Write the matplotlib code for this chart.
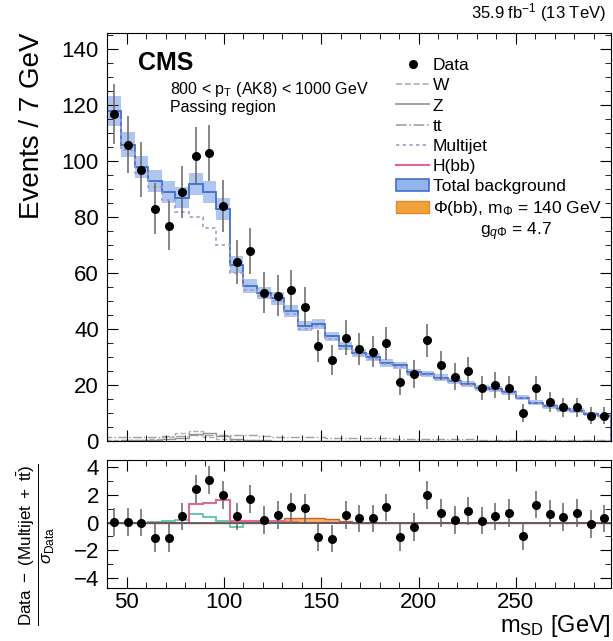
import matplotlib.pyplot as plt
import numpy as np
from matplotlib.lines import Line2D
from matplotlib.patches import Patch

plt.rcParams['font.family'] = ['Liberation Sans', 'DejaVu Sans']
plt.rcParams['mathtext.fontset'] = 'custom'
plt.rcParams['mathtext.rm'] = 'Liberation Sans'
plt.rcParams['mathtext.it'] = 'Liberation Sans:italic'
plt.rcParams['mathtext.bf'] = 'Liberation Sans:bold'

# bins of 7 GeV in soft-drop mass
edges = np.arange(40, 300, 7)
centers = edges[:-1] + 3.5

data = [117, 106, 97, 83, 77, 89, 102, 103, 84, 64, 68, 53, 52, 54, 48, 34, 29, 37,
        33, 32, 35, 21, 24, 36, 27, 23, 25, 19, 20, 19, 10, 19, 14, 12, 12, 9, 9]
data_err = [10.8, 10.3, 9.8, 9.1, 8.8, 9.4, 10.1, 10.1, 9.2, 8.0, 8.2, 7.3, 7.2, 7.3,
            6.9, 5.8, 5.4, 6.1, 5.7, 5.7, 5.9, 4.6, 4.9, 6.0, 5.2, 4.8, 5.0, 4.4, 4.5,
            4.4, 3.2, 4.4, 3.7, 3.5, 3.5, 3.0, 3.0]

total_bkg = [118, 106, 98, 93, 89, 87, 92, 89, 83, 63, 55.5, 53, 51, 46.5, 41, 42, 37.5,
             34, 31.5, 30, 28, 27, 24.5, 24, 22.6, 21.5, 20.5, 19, 18.6, 17.4, 15.5,
             13.7, 12.5, 11.4, 10.8, 9.7, 9]
bkg_unc = [5.5, 4.5, 4.0, 4.0, 3.8, 3.8, 4.0, 4.0, 4.0, 3.0, 2.5, 2.2, 2.2, 2.0, 1.8,
           1.8, 1.6, 1.5, 1.5, 1.4, 1.4, 1.3, 1.3, 1.2, 1.2, 1.2, 1.1, 1.1, 1.1, 1.0,
           1.0, 1.0, 0.9, 0.9, 0.9, 0.8, 0.8]
multijet = [116, 104, 96, 91, 86, 82, 80, 76, 70, 60, 54, 52, 50, 45.5, 40, 41, 36.5,
            33, 31, 29.5, 27.5, 26.5, 24, 23.5, 22.2, 21.1, 20.1, 18.7, 18.3, 17.1,
            15.2, 13.5, 12.3, 11.2, 10.6, 9.5, 8.8]
w_bkg = [0.2, 0.3, 0.5, 0.8, 1.5, 3.0, 3.5, 1.5, 0.6, 0.3, 0.2, 0.1, 0.1, 0.1, 0.1,
         0.1, 0.1, 0.1, 0.1, 0.1, 0.1, 0.1, 0.1, 0.1, 0.1, 0.1, 0.1, 0.1, 0.1, 0.1,
         0.1, 0.1, 0.1, 0.1, 0.1, 0.1, 0.1]
z_bkg = [0.1, 0.2, 0.3, 0.4, 0.6, 1.2, 2.5, 3.0, 1.8, 0.6, 0.3, 0.2, 0.1, 0.1, 0.1,
         0.1, 0.1, 0.1, 0.1, 0.1, 0.1, 0.1, 0.1, 0.1, 0.1, 0.1, 0.1, 0.1, 0.1, 0.1,
         0.1, 0.1, 0.1, 0.1, 0.1, 0.1, 0.1]
tt_bkg = [1.5, 1.5, 1.6, 1.6, 1.7, 1.8, 2.0, 2.2, 2.3, 2.2, 2.0, 1.8, 1.6, 1.5, 1.4,
          1.3, 1.2, 1.1, 1.0, 1.0, 0.9, 0.8, 0.8, 0.7, 0.7, 0.6, 0.6, 0.5, 0.5, 0.5,
          0.4, 0.4, 0.4, 0.3, 0.3, 0.3, 0.3]

# lower panel: (Data - (Multijet + tt)) / sigma_Data
pull = [0.05, 0.05, 0.0, -1.1, -1.1, 0.45, 2.4, 3.05, 2.0, 0.45, 1.7, 0.2, 0.55, 1.15,
        1.05, -1.05, -1.15, 0.55, 0.3, 0.3, 1.1, -1.05, -0.3, 2.0, 0.7, 0.2, 0.85,
        0.15, 0.45, 0.7, -0.95, 1.3, 0.65, 0.4, 0.7, -0.1, 0.3]
hbb_pull = [0, 0, 0, 0, 0, 0, 1.35, 1.45, 1.6, 0.1, 0.1, 0.1, 0.1, 0.05, 0, 0, 0, 0, 0,
            0, 0, 0, 0, 0, 0, 0, 0, 0, 0, 0, 0, 0, 0, 0, 0, 0, 0]
vz_pull = [0, 0, 0, 0.05, 0.1, 0.2, 0.6, 0.4, 0.1, -0.3, 0, 0, 0, 0, 0, 0, 0, 0, 0, 0,
           0, 0, 0, 0, 0, 0, 0, 0, 0, 0, 0, 0, 0, 0, 0, 0, 0]
phi_pull = [0, 0, 0, 0, 0, 0, 0, 0, 0, 0, 0, 0, 0.15, 0.3, 0.35, 0.35, 0.25, 0.1, 0, 0,
            0, 0, 0, 0, 0, 0, 0, 0, 0, 0, 0, 0, 0, 0, 0, 0, 0]

blue = '#3f6fd1'
blue_fill = '#94b4ec'
pink = '#e06a8a'
teal = '#5fc2a8'
orange = '#f2a23a'

fig = plt.figure(figsize=(6.13, 6.41), dpi=100)
ax = fig.add_axes([0.175, 0.312, 0.822, 0.637])
rax = fig.add_axes([0.175, 0.083, 0.822, 0.199], sharex=ax)

# upper panel
low = np.array(total_bkg) - np.array(bkg_unc)
high = np.array(total_bkg) + np.array(bkg_unc)
ax.stairs(high, edges, baseline=low, fill=True, color=blue_fill, alpha=0.75, lw=0)
ax.stairs(total_bkg, edges, color=blue, lw=1.3)
ax.stairs(multijet, edges, color='#a898c8', lw=1.2, ls=(0, (2, 2)))
ax.stairs(w_bkg, edges, color='#b0b0b0', lw=1, ls='--')
ax.stairs(z_bkg, edges, color='#909090', lw=1)
ax.stairs(tt_bkg, edges, color='#a0a0a0', lw=1, ls='-.')
ax.errorbar(centers, data, yerr=data_err, fmt='o', color='black', ms=5.5,
            ecolor='#666666', elinewidth=1.1, capsize=0)

ax.set_xlim(40, 299)
ax.set_ylim(0, 146)
ax.set_ylabel('Events / 7 GeV', fontsize=20, loc='top', labelpad=12)
ax.set_yticks(np.arange(0, 141, 20))
ax.set_yticks(np.arange(0, 146, 5), minor=True)
ax.set_xticks(np.arange(50, 299, 50))
ax.set_xticks(np.arange(40, 299, 10), minor=True)
ax.tick_params(labelbottom=False)

ax.text(0.06, 0.955, 'CMS', transform=ax.transAxes, fontsize=18, fontweight='bold',
        va='top')
ax.text(0.125, 0.885, r'800 < p$_\mathregular{T}$ (AK8) < 1000 GeV', transform=ax.transAxes,
        fontsize=11.5, va='top')
ax.text(0.125, 0.835, 'Passing region', transform=ax.transAxes, fontsize=11.5, va='top')
fig.text(0.988, 0.972, r'35.9 fb$^{-1}$ (13 TeV)', ha='right', fontsize=12)

handles = [
    Line2D([], [], marker='o', color='black', ls='none', ms=5.5),
    Line2D([], [], color='#b0b0b0', ls='--', lw=1.2),
    Line2D([], [], color='#909090', lw=1.2),
    Line2D([], [], color='#a0a0a0', ls='-.', lw=1.2),
    Line2D([], [], color='#a898c8', ls=(0, (2, 2)), lw=1.2),
    Line2D([], [], color=pink, lw=1.5),
    Patch(facecolor=blue_fill, edgecolor=blue, lw=1.2),
    Patch(facecolor=orange, edgecolor='#e08a30', lw=1.0),
]
labels = ['Data', 'W', 'Z', 'tt', 'Multijet', 'H(bb)', 'Total background',
          r'$\Phi$(bb), m$_\Phi$ = 140 GeV']
ax.legend(handles, labels, loc='upper left', bbox_to_anchor=(0.56, 0.955),
          frameon=False, fontsize=12.5, handlelength=1.9, handletextpad=0.2,
          labelspacing=0.29, borderaxespad=0)
ax.text(0.74, 0.54, r'g$_{q\Phi}$ = 4.7', transform=ax.transAxes, fontsize=12.5,
        va='top')

# lower panel
rax.axhline(0, color='#555555', lw=1.2)
rax.stairs(phi_pull, edges, fill=True, color=orange, alpha=0.8, lw=0)
rax.stairs(phi_pull, edges, color='#d06030', lw=1)
rax.stairs(vz_pull, edges, color=teal, lw=1.3)
rax.stairs(hbb_pull, edges, color=pink, lw=1.5)
rax.errorbar(centers, pull, yerr=1, fmt='o', color='black', ms=5.5,
             ecolor='#666666', elinewidth=1.1, capsize=0)
rax.set_ylim(-4.7, 4.5)
rax.set_yticks([-4, -2, 0, 2, 4])
rax.set_yticks(np.arange(-4, 5, 1), minor=True)
rax.set_xlabel(r'm$_\mathregular{SD}$ [GeV]', fontsize=17, loc='right', labelpad=0)
rax.set_ylabel(r'$\frac{\mathregular{Data}\ -\ (\mathregular{Multijet}\ +\ \mathregular{t\bar{t}})}'
               r'{\sigma_\mathregular{Data}}$', fontsize=17.5)
rax.yaxis.set_label_coords(-0.1, 0.34)

for a in (ax, rax):
    a.tick_params(which='both', direction='in', top=True, right=True, labelsize=16,
                  pad=6)
    a.tick_params(which='major', length=8)
    a.tick_params(which='minor', length=4)
rax.tick_params(axis='x', pad=3)

fig.savefig('out.png', dpi=100)
